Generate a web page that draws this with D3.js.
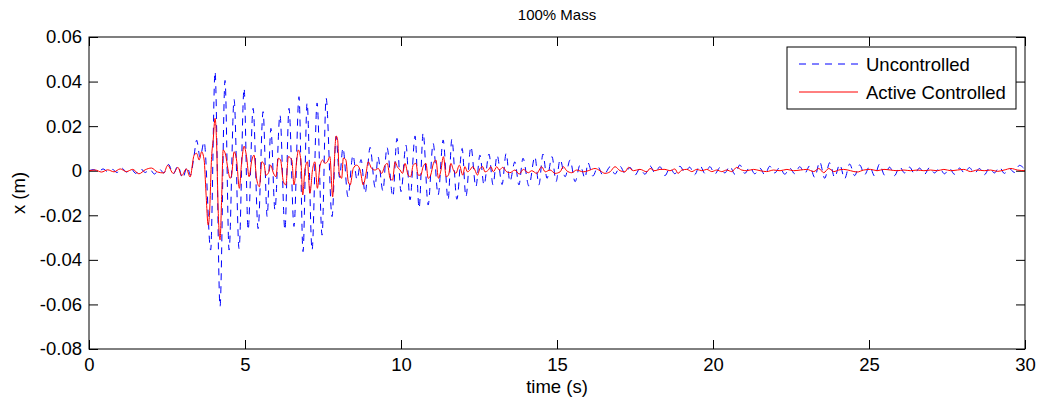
<!DOCTYPE html>
<html><head><meta charset="utf-8">
<script src="https://cdn.jsdelivr.net/npm/d3@7"></script>
<style>body{margin:0;background:#fff}svg{display:block}text{font-family:"Liberation Sans",Arial,sans-serif;fill:#000}</style>
</head><body>
<svg id="c" width="1039" height="410"></svg>
<script>
const titleText = "100% Mass";
const xLabel = "time (s)";
const yLabel = "x (m)";
const seriesNames = ["Uncontrolled", "Active Controlled"];
const xTicks = [0, 5, 10, 15, 20, 25, 30];
const yTicks = [-0.08, -0.06, -0.04, -0.02, 0, 0.02, 0.04, 0.06];

const uncT = [0.00,0.15,0.30,0.45,0.60,0.75,0.90,1.05,1.20,1.35,1.50,1.65,1.80,1.95,2.10,2.25,2.40,2.55,2.70,2.85,3.00,3.15,3.25,3.37,3.45,3.56,3.69,3.90,4.04,4.20,4.36,4.49,4.65,4.81,4.97,5.10,5.26,5.42,5.58,5.71,5.83,5.96,6.12,6.28,6.41,6.57,6.73,6.86,6.99,7.15,7.31,7.47,7.60,7.79,7.92,8.03,8.14,8.30,8.46,8.59,8.72,8.85,9.01,9.17,9.26,9.42,9.55,9.74,9.87,10.00,10.16,10.29,10.45,10.58,10.71,10.87,11.03,11.19,11.35,11.51,11.63,11.79,11.96,12.08,12.24,12.40,12.53,12.66,12.82,12.95,13.08,13.24,13.37,13.49,13.65,13.78,13.91,14.10,14.29,14.42,14.55,14.68,14.84,14.97,15.10,15.26,15.42,15.58,15.74,15.90,15.99,16.15,16.31,16.47,16.57,16.70,16.86,17.02,17.18,17.34,17.50,17.66,17.82,17.98,18.14,18.30,18.46,18.62,18.78,18.94,19.10,19.25,19.41,19.58,19.74,19.90,20.06,20.22,20.38,20.54,20.70,20.86,21.02,21.18,21.34,21.50,21.66,21.82,21.98,22.14,22.30,22.46,22.62,22.78,22.94,23.10,23.26,23.42,23.58,23.74,23.90,24.06,24.22,24.38,24.54,24.70,24.86,25.02,25.18,25.34,25.50,25.66,25.82,25.98,26.14,26.30,26.46,26.62,26.78,26.94,27.10,27.26,27.42,27.58,27.74,27.90,28.06,28.22,28.38,28.54,28.70,28.86,29.02,29.18,29.34,29.50,29.66,29.82,30.00];
const uncV = [0,0.0005,-0.0005,0.0008,-0.0004,0.0006,-0.0008,0.0012,-0.0006,0.0008,-0.0012,0.0010,-0.0008,0.0006,-0.0015,0.0008,-0.0010,0.0028,-0.0015,0.0022,-0.0034,0.0018,-0.0020,0.0070,0.0137,0.0060,0.0130,-0.0356,0.0445,-0.0610,0.0405,-0.0356,0.0320,-0.0350,0.0370,-0.0266,0.0280,-0.0260,0.0265,-0.0206,0.0190,-0.0176,0.0250,-0.0266,0.0280,-0.0250,0.0332,-0.0363,0.0304,-0.0356,0.0304,-0.0289,0.0326,-0.0206,0.0153,-0.0030,0.0102,-0.0117,0.0070,-0.0040,0.0050,-0.0101,0.0105,-0.0075,0.0063,-0.0090,0.0105,-0.0117,0.0145,-0.0094,0.0115,-0.0131,0.0156,-0.0169,0.0170,-0.0154,0.0123,-0.0109,0.0138,-0.0131,0.0142,-0.0128,0.0100,-0.0117,0.0108,-0.0072,0.0070,-0.0064,0.0075,-0.0064,0.0070,-0.0062,0.0078,-0.0049,0.0040,-0.0064,0.0056,-0.0069,0.0063,-0.0064,0.0075,-0.0034,0.0063,-0.0049,0.0051,-0.0027,0.0048,-0.0049,0.0026,-0.0034,0.0036,-0.0024,0.0018,-0.0020,-0.0008,0.0018,-0.0015,0.0020,-0.0012,0.0015,-0.0020,0.0010,-0.0016,0.0022,-0.0010,0.0018,-0.0022,0.0012,-0.0014,0.0020,-0.0008,0.0016,-0.0018,0.0024,-0.0012,0.0018,-0.0015,0.0014,-0.0010,0.0020,-0.0016,0.0026,-0.0012,0.0016,-0.0014,0.0012,-0.0018,0.0020,-0.0010,0.0015,-0.0016,0.0012,-0.0014,0.0018,-0.0012,0.0022,-0.0030,0.0040,-0.0034,0.0036,-0.0030,0.0028,-0.0036,0.0030,-0.0022,0.0026,-0.0018,0.0020,-0.0024,0.0030,-0.0020,0.0016,-0.0022,0.0018,-0.0010,0.0016,-0.0014,0.0012,-0.0016,0.0014,-0.0010,0.0012,-0.0014,0.0010,-0.0016,0.0012,-0.0010,0.0014,-0.0012,0.0010,-0.0018,0.0012,-0.0010,0.0016,-0.0012,0.0010,-0.0008,0.0024,0.0005];

const actT = [0.00,0.20,0.40,0.60,0.80,1.00,1.20,1.40,1.60,1.80,2.00,2.20,2.40,2.52,2.70,2.85,2.97,3.12,3.24,3.37,3.45,3.53,3.61,3.69,3.75,3.82,3.86,3.93,3.98,4.04,4.09,4.14,4.20,4.25,4.30,4.38,4.45,4.52,4.57,4.65,4.73,4.82,4.89,4.97,5.05,5.13,5.22,5.29,5.37,5.46,5.54,5.61,5.67,5.75,5.82,5.91,5.99,6.07,6.14,6.23,6.31,6.39,6.50,6.57,6.66,6.71,6.79,6.85,6.92,7.00,7.08,7.17,7.24,7.32,7.40,7.49,7.56,7.64,7.72,7.81,7.86,7.92,7.97,8.02,8.10,8.15,8.23,8.31,8.37,8.47,8.58,8.69,8.79,8.88,8.95,9.06,9.17,9.27,9.38,9.49,9.56,9.65,9.73,9.81,9.88,9.97,10.05,10.13,10.23,10.31,10.39,10.48,10.55,10.63,10.71,10.80,10.87,10.95,11.04,11.12,11.20,11.27,11.36,11.45,11.52,11.60,11.68,11.76,11.87,11.98,12.05,12.13,12.21,12.30,12.37,12.45,12.53,12.62,12.69,12.80,12.88,12.96,13.07,13.15,13.26,13.39,13.49,13.65,13.79,13.92,14.08,14.19,14.35,14.51,14.62,14.78,14.94,15.10,15.20,15.31,15.47,15.63,15.84,16.00,16.22,16.38,16.54,16.70,16.86,17.02,17.18,17.29,17.45,17.66,17.88,17.98,18.14,18.30,18.46,18.62,18.78,18.88,19.00,19.16,19.32,19.48,19.64,19.80,19.96,20.12,20.28,20.44,20.60,20.76,20.92,21.08,21.30,21.51,21.72,21.94,22.15,22.37,22.58,22.80,23.01,23.23,23.39,23.55,23.71,23.87,24.03,24.19,24.41,24.62,24.83,25.05,25.26,25.48,25.69,25.90,26.12,26.33,26.55,26.76,26.97,27.19,27.40,27.62,27.83,28.04,28.26,28.47,28.69,28.90,29.12,29.33,29.55,29.76,30.00];
const actV = [0,0.0003,-0.0006,0.0004,-0.0005,0.0008,-0.0004,0.0006,-0.0014,0.0004,0.0012,-0.0006,-0.0010,0.0024,-0.0012,0.0015,-0.0022,0.0008,-0.0028,0.0070,0.0078,0.0048,0.0085,0.0048,-0.0100,-0.0244,-0.0200,0.0063,0.0138,0.0235,0.0123,-0.0176,-0.0310,-0.0130,0.0093,0.0070,0.0010,-0.0034,-0.0020,0.0085,0.0048,-0.0079,0.0035,0.0110,0.0063,-0.0027,0.0048,0.0070,-0.0034,-0.0072,0.0040,0.0030,-0.0020,-0.0010,0.0025,-0.0010,-0.0027,0.0056,0.0048,-0.0049,-0.0064,0.0063,0.0048,-0.0064,0.0048,0.0093,0.0048,-0.0109,0.0003,0.0040,-0.0101,0.0010,0.0040,-0.0079,0.0018,0.0048,0.0033,0.0040,0.0063,-0.0117,0.0033,0.0156,0.0138,-0.0012,-0.0034,0.0056,0.0050,-0.0049,-0.0064,0.0010,0.0025,0.0003,-0.0064,-0.0012,0.0040,0.0010,0.0003,0.0010,-0.0012,0.0025,0.0033,-0.0034,-0.0042,0.0040,0.0018,0.0003,-0.0012,0.0033,-0.0020,-0.0027,0.0025,0.0033,-0.0020,-0.0020,0.0018,0.0033,-0.0034,-0.0020,0.0033,0.0048,-0.0034,-0.0005,0.0063,-0.0027,-0.0020,0.0033,0.0003,-0.0012,0.0025,-0.0020,0.0018,-0.0005,0.0003,0.0018,0.0003,-0.0020,0.0010,0.0018,-0.0005,0.0003,0.0018,-0.0005,0.0018,0.0003,0.0015,-0.0005,-0.0009,0.0003,-0.0015,0.0006,-0.0009,0.0000,-0.0012,0.0018,-0.0005,0.0003,-0.0012,-0.0005,0.0018,0.0000,-0.0009,0.0003,-0.0005,0.0000,0.0010,0.0000,-0.0012,-0.0005,0.0018,0.0000,-0.0005,0.0015,0.0000,0.0006,-0.0005,0.0010,0.0000,0.0006,0.0006,0.0000,0.0008,-0.0012,0.0003,0.0006,-0.0004,0.0006,0.0000,0.0006,-0.0004,0.0003,-0.0004,0.0003,-0.0004,0.0015,0.0003,0.0000,0.0006,0.0000,-0.0004,0.0003,0.0000,0.0006,0.0000,0.0003,0.0006,-0.0004,0.0010,-0.0009,0.0010,-0.0004,0.0003,0.0006,0.0000,-0.0006,0.0003,0.0006,0.0000,0.0006,0.0003,0.0000,0.0003,0.0000,0.0003,0.0000,0.0003,0.0000,0.0006,0.0000,0.0003,0.0006,-0.0004,0.0003,0.0000,0.0003,-0.0003,0.0003,0.0010,0.0003,0.0000];

const svg = d3.select("#c");
const L = 89, R = 1025, T = 37, B = 349;
const x = d3.scaleLinear().domain([0, 30]).range([L, R]);
const y = d3.scaleLinear().domain([-0.08, 0.06]).range([B, T]);

svg.append("defs").append("clipPath").attr("id", "clip")
  .append("rect").attr("x", L).attr("y", T).attr("width", R - L).attr("height", B - T);

const fmt = d => d === 0 ? "0" : d.toFixed(2);
const fs = "18.5px";
const blue = "#0000ff", red = "#ff0000", dash = "7,6";

// axes
const gx = svg.append("g").attr("transform", `translate(0,${B})`)
  .call(d3.axisBottom(x).tickValues(xTicks).tickSizeInner(-9).tickSizeOuter(0).tickPadding(9).tickFormat(d3.format("d")));
const gy = svg.append("g").attr("transform", `translate(${L},0)`)
  .call(d3.axisLeft(y).tickValues(yTicks).tickSizeInner(-9).tickSizeOuter(0).tickPadding(7).tickFormat(fmt));
const gt = svg.append("g").attr("transform", `translate(0,${T})`)
  .call(d3.axisTop(x).tickValues(xTicks).tickSizeInner(-9).tickSizeOuter(0).tickFormat(""));
const gr = svg.append("g").attr("transform", `translate(${R},0)`)
  .call(d3.axisRight(y).tickValues(yTicks).tickSizeInner(-9).tickSizeOuter(0).tickFormat(""));
[gx, gy, gt, gr].forEach(g => {
  g.select(".domain").remove();
  g.selectAll(".tick line").attr("stroke", "#000");
  g.selectAll("text").style("font-size", fs).attr("fill", "#000").style("font-family", '"Liberation Sans",Arial,sans-serif');
});

// lines
const lineU = d3.line().x((d, i) => x(uncT[i])).y(d => y(d)).curve(d3.curveMonotoneX);
const lineA = d3.line().x((d, i) => x(actT[i])).y(d => y(d)).curve(d3.curveMonotoneX);
const plot = svg.append("g").attr("clip-path", "url(#clip)");
plot.append("path").datum(uncV).attr("d", lineU).attr("fill", "none")
  .attr("stroke", blue).attr("stroke-width", 1).attr("stroke-dasharray", dash);
plot.append("path").datum(actV).attr("d", lineA).attr("fill", "none")
  .attr("stroke", red).attr("stroke-width", 1);

// frame
svg.append("rect").attr("x", L).attr("y", T).attr("width", R - L).attr("height", B - T)
  .attr("fill", "none").attr("stroke", "#000").attr("stroke-width", 1);

// title and labels
svg.append("text").attr("x", (L + R) / 2).attr("y", 20).attr("text-anchor", "middle")
  .style("font-size", "15px").text(titleText);
svg.append("text").attr("x", (L + R) / 2).attr("y", 393).attr("text-anchor", "middle")
  .style("font-size", fs).text(xLabel);
svg.append("text").attr("transform", `translate(25,${(T + B) / 2}) rotate(-90)`).attr("text-anchor", "middle")
  .style("font-size", fs).text(yLabel);

// legend
const lg = svg.append("g");
lg.append("rect").attr("x", 787).attr("y", 47).attr("width", 229).attr("height", 62)
  .attr("fill", "#fff").attr("stroke", "#000").attr("stroke-width", 1);
lg.append("line").attr("x1", 799).attr("x2", 858).attr("y1", 64).attr("y2", 64)
  .attr("stroke", blue).attr("stroke-width", 1).attr("stroke-dasharray", dash);
lg.append("text").attr("x", 866).attr("y", 64).attr("dy", "0.36em").style("font-size", fs).text(seriesNames[0]);
lg.append("line").attr("x1", 799).attr("x2", 858).attr("y1", 92).attr("y2", 92)
  .attr("stroke", red).attr("stroke-width", 1);
lg.append("text").attr("x", 866).attr("y", 92).attr("dy", "0.36em").style("font-size", fs).text(seriesNames[1]);
</script>
</body></html>
